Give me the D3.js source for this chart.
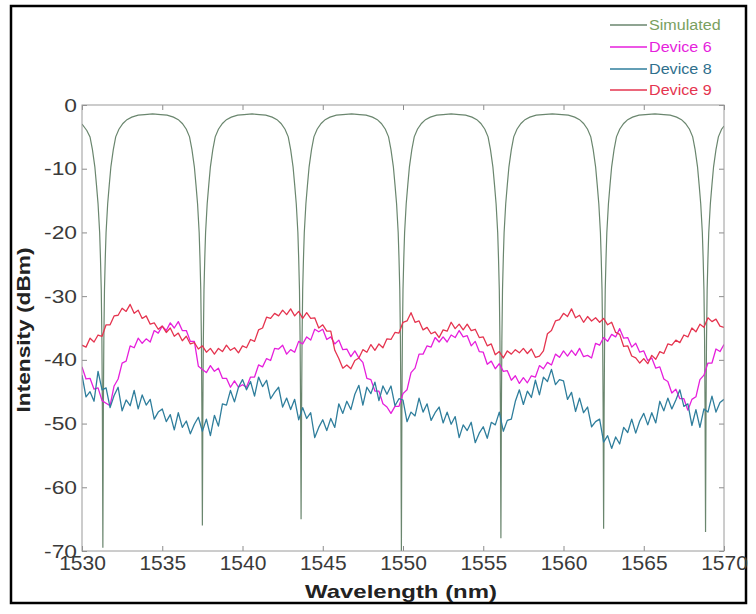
<!DOCTYPE html>
<html>
<head>
<meta charset="utf-8">
<script src="https://cdn.jsdelivr.net/npm/d3@7"></script>
<style>
  html, body { margin: 0; padding: 0; background: #fff; }
  svg { display: block; }
  text { font-family: "Liberation Sans", Arial, sans-serif; }
</style>
</head>
<body>
<svg id="chart" width="756" height="614"></svg>
<script>
// ---------------- DATA ----------------
const xTicks = [1530, 1535, 1540, 1545, 1550, 1555, 1560, 1565, 1570];
const yTicks = [0, -10, -20, -30, -40, -50, -60, -70];
const seriesNames = ["Simulated", "Device 6", "Device 8", "Device 9"];

// Simulated transmission (wavelength nm, intensity dBm)
const simWl = [
 1530.0,1530.3,1530.5,1530.65,1530.8,1530.9,1531.0,1531.1,1531.15,1531.2,1531.24,1531.27,1531.3,1531.33,1531.36,1531.4,1531.45,1531.5,1531.6,1531.7,1531.8,1531.95,1532.1,1532.3,1532.55,1532.8,1533.1,1533.5,1533.9,1534.4,
 1534.9,1535.3,1535.7,1536.0,1536.25,1536.5,1536.7,1536.85,1537.0,1537.1,1537.2,1537.3,1537.35,1537.4,1537.44,1537.47,1537.5,1537.53,1537.56,1537.6,1537.65,1537.7,1537.8,1537.9,1538.0,1538.15,1538.3,1538.5,1538.75,1539.0,1539.3,1539.7,1540.1,1540.6,
 1541.05,1541.45,1541.85,1542.15,1542.4,1542.65,1542.85,1543.0,1543.15,1543.25,1543.35,1543.45,1543.5,1543.55,1543.59,1543.62,1543.65,1543.68,1543.71,1543.75,1543.8,1543.85,1543.95,1544.05,1544.15,1544.3,1544.45,1544.65,1544.9,1545.15,1545.45,1545.85,1546.25,1546.8,
 1547.3,1547.7,1548.1,1548.4,1548.65,1548.9,1549.1,1549.25,1549.4,1549.5,1549.6,1549.7,1549.75,1549.8,1549.84,1549.87,1549.9,1549.93,1549.96,1550.0,1550.05,1550.1,1550.2,1550.3,1550.4,1550.55,1550.7,1550.9,1551.15,1551.4,1551.7,1552.1,1552.5,1553.0,
 1553.5,1553.9,1554.3,1554.6,1554.85,1555.1,1555.3,1555.45,1555.6,1555.7,1555.8,1555.9,1555.95,1556.0,1556.04,1556.07,1556.1,1556.13,1556.16,1556.2,1556.25,1556.3,1556.4,1556.5,1556.6,1556.75,1556.9,1557.1,1557.35,1557.6,1557.9,1558.3,1558.7,1559.3,
 1559.9,1560.3,1560.7,1561.0,1561.25,1561.5,1561.7,1561.85,1562.0,1562.1,1562.2,1562.3,1562.35,1562.4,1562.44,1562.47,1562.5,1562.53,1562.56,1562.6,1562.65,1562.7,1562.8,1562.9,1563.0,1563.15,1563.3,1563.5,1563.75,1564.0,1564.3,1564.7,1565.1,1565.7,
 1566.25,1566.65,1567.05,1567.35,1567.6,1567.85,1568.05,1568.2,1568.35,1568.45,1568.55,1568.65,1568.7,1568.75,1568.79,1568.82,1568.85,1568.88,1568.91,1568.95,1569.0,1569.05,1569.15,1569.25,1569.35,1569.5,1569.65,1569.85,1570.0
];
const simDb = [
 -3.0,-4.0,-5.0,-7.0,-9.7,-12.5,-15.5,-20,-24,-29,-37,-48,-69.5,-48,-37,-29,-24,-20,-15.5,-12.5,-9.7,-7.0,-5.0,-3.8,-2.9,-2.3,-1.9,-1.6,-1.5,-1.4,
 -1.5,-1.6,-1.9,-2.3,-2.9,-3.8,-5.0,-7.0,-9.7,-12.5,-15.5,-20,-24,-29,-37,-48,-66,-48,-37,-29,-24,-20,-15.5,-12.5,-9.7,-7.0,-5.0,-3.8,-2.9,-2.3,-1.9,-1.6,-1.5,-1.4,
 -1.5,-1.6,-1.9,-2.3,-2.9,-3.8,-5.0,-7.0,-9.7,-12.5,-15.5,-20,-24,-29,-37,-48,-65,-48,-37,-29,-24,-20,-15.5,-12.5,-9.7,-7.0,-5.0,-3.8,-2.9,-2.3,-1.9,-1.6,-1.5,-1.4,
 -1.5,-1.6,-1.9,-2.3,-2.9,-3.8,-5.0,-7.0,-9.7,-12.5,-15.5,-20,-24,-29,-37,-48,-70,-48,-37,-29,-24,-20,-15.5,-12.5,-9.7,-7.0,-5.0,-3.8,-2.9,-2.3,-1.9,-1.6,-1.5,-1.4,
 -1.5,-1.6,-1.9,-2.3,-2.9,-3.8,-5.0,-7.0,-9.7,-12.5,-15.5,-20,-24,-29,-37,-48,-68,-48,-37,-29,-24,-20,-15.5,-12.5,-9.7,-7.0,-5.0,-3.8,-2.9,-2.3,-1.9,-1.6,-1.5,-1.4,
 -1.5,-1.6,-1.9,-2.3,-2.9,-3.8,-5.0,-7.0,-9.7,-12.5,-15.5,-20,-24,-29,-37,-48,-66.5,-48,-37,-29,-24,-20,-15.5,-12.5,-9.7,-7.0,-5.0,-3.8,-2.9,-2.3,-1.9,-1.6,-1.5,-1.4,
 -1.5,-1.6,-1.9,-2.3,-2.9,-3.8,-5.0,-7.0,-9.7,-12.5,-15.5,-20,-24,-29,-37,-48,-67,-48,-37,-29,-24,-20,-15.5,-12.5,-9.7,-7.0,-5.0,-3.8,-3.3
];

// Measured devices, sampled every 0.25 nm from 1530 to 1570
const deviceWl = d3.range(161).map(i => 1530 + i * 0.25);

const device6 = [
 -41.1,-43.0,-42.9,-44.6,-44.4,-46.4,-46.8,-47.2,-44.1,-43.0,-40.5,-40.2,-37.8,-38.1,-36.6,-37.4,-36.7,-37.2,-35.4,-35.8,
 -34.7,-35.4,-34.2,-35.0,-34.0,-35.4,-35.4,-37.1,-37.1,-41.0,-41.5,-42.0,-40.9,-41.8,-41.3,-42.9,-42.9,-44.3,-43.3,-44.3,
 -43.9,-44.3,-42.7,-42.7,-40.8,-41.1,-39.8,-40.1,-38.2,-38.3,-37.7,-39.1,-38.4,-38.8,-37.1,-37.5,-36.4,-36.9,-35.2,-35.6,
 -35.2,-36.8,-36.4,-37.5,-36.9,-38.4,-38.3,-39.5,-38.6,-39.7,-40.4,-42.9,-43.1,-44.9,-44.9,-46.9,-47.4,-48.4,-47.3,-47.3,
 -45.3,-44.7,-42.0,-41.3,-39.1,-39.1,-37.8,-38.0,-36.5,-37.2,-36.4,-37.2,-36.1,-36.5,-35.4,-36.4,-36.2,-37.8,-37.1,-38.7,
 -38.8,-40.7,-40.2,-41.4,-40.6,-41.8,-41.7,-43.2,-42.5,-43.7,-42.8,-43.6,-42.5,-42.7,-40.9,-41.4,-40.4,-40.8,-39.1,-39.6,
 -38.6,-39.4,-38.5,-39.3,-38.2,-39.5,-39.3,-39.7,-37.4,-37.7,-36.5,-37.1,-36.0,-36.4,-35.1,-36.6,-36.5,-38.0,-37.4,-38.8,
 -38.6,-40.1,-39.7,-41.3,-41.1,-43.0,-43.4,-45.2,-44.6,-46.1,-46.1,-47.9,-46.2,-45.8,-43.1,-42.4,-40.5,-40.5,-38.3,-38.7,
 -37.6
];

const device8 = [
 -42.4,-45.8,-45.0,-46.5,-41.8,-44.7,-44.4,-47.5,-45.6,-44.3,-48.0,-46.3,-47.2,-44.8,-47.7,-45.5,-47.1,-46.2,-49.3,-48.2,
 -47.7,-49.7,-48.6,-51.0,-48.3,-50.6,-49.6,-51.6,-50.1,-49.0,-51.2,-49.3,-51.9,-48.7,-50.4,-46.9,-47.1,-44.8,-46.6,-44.3,
 -43.1,-44.7,-43.4,-45.7,-42.7,-44.2,-43.2,-46.1,-45.1,-44.3,-47.4,-46.0,-47.8,-46.2,-49.4,-47.5,-49.2,-48.3,-52.2,-50.6,
 -49.4,-51.1,-49.2,-50.6,-46.9,-48.4,-46.5,-47.8,-45.4,-44.0,-47.1,-44.3,-45.3,-43.5,-46.4,-44.1,-45.4,-44.1,-47.2,-46.1,
 -46.3,-49.7,-48.2,-48.8,-46.0,-48.2,-46.9,-49.5,-48.3,-47.4,-49.9,-48.2,-50.1,-48.9,-52.2,-50.2,-51.1,-49.8,-53.0,-51.5,
 -50.5,-52.3,-49.8,-50.2,-48.2,-51.2,-49.5,-49.3,-46.5,-44.7,-47.0,-44.9,-45.9,-43.2,-45.5,-42.7,-43.4,-41.5,-43.9,-43.1,
 -43.3,-46.2,-45.1,-48.1,-46.0,-48.3,-47.4,-50.5,-49.7,-49.3,-52.9,-51.9,-53.9,-52.1,-53.2,-50.6,-51.4,-49.3,-51.5,-49.6,
 -48.4,-50.2,-48.3,-49.9,-46.5,-48.0,-46.0,-47.7,-46.3,-44.7,-47.3,-46.9,-50.3,-47.8,-50.6,-47.7,-48.2,-45.7,-48.2,-46.7,
 -46.2
];

const device9 = [
 -37.7,-38.0,-36.6,-37.2,-36.1,-36.3,-34.5,-34.5,-33.1,-33.0,-31.9,-32.4,-31.3,-32.7,-32.2,-33.5,-33.1,-34.4,-34.2,-35.2,
 -34.7,-35.7,-35.0,-36.3,-35.8,-37.0,-36.3,-37.5,-37.3,-38.3,-37.8,-38.8,-38.2,-39.1,-38.2,-38.7,-37.7,-38.5,-38.1,-38.9,
 -37.8,-38.1,-36.8,-37.1,-35.3,-35.0,-33.3,-33.5,-32.7,-33.1,-32.2,-32.9,-32.0,-33.1,-32.4,-33.5,-32.6,-33.5,-33.4,-35.0,
 -34.5,-35.5,-35.5,-38.5,-39.8,-41.3,-40.8,-41.4,-40.1,-39.7,-38.4,-38.8,-37.6,-38.5,-37.5,-38.1,-36.7,-36.8,-35.7,-35.8,
 -34.1,-33.9,-32.6,-34.1,-33.9,-35.3,-34.9,-35.9,-35.6,-36.5,-35.3,-35.5,-34.1,-35.1,-34.4,-35.3,-34.4,-35.4,-35.2,-36.5,
 -36.4,-37.8,-37.5,-39.2,-38.7,-39.7,-38.6,-39.1,-38.4,-38.9,-38.2,-39.0,-38.3,-39.6,-39.4,-38.6,-35.9,-35.4,-33.9,-33.7,
 -32.7,-33.2,-32.0,-33.4,-33.0,-34.1,-33.2,-33.9,-33.4,-34.1,-33.5,-34.5,-34.1,-35.7,-36.0,-37.9,-37.8,-39.4,-39.7,-40.5,
 -39.8,-40.6,-39.3,-39.9,-38.7,-39.0,-37.5,-37.7,-36.9,-37.3,-36.1,-36.4,-35.0,-35.6,-34.4,-34.9,-33.4,-34.0,-33.6,-34.7,
 -34.9
];

const colors = ["#6a866e", "#e61fdc", "#2f7e9c", "#e5344f"];
const legendTextColors = ["#7aa060", "#e61fdc", "#2f6f8c", "#e5344f"];

// ---------------- CHART ----------------
const svg = d3.select("#chart");
const W = 756, H = 614;
svg.append("rect").attr("x", 0).attr("y", 0).attr("width", W).attr("height", H).attr("fill", "#fff");

const plot = { left: 82, right: 724, top: 105, bottom: 551 };
const x = d3.scaleLinear().domain([1530, 1570]).range([plot.left, plot.right]);
const y = d3.scaleLinear().domain([-70, 0]).range([plot.bottom, plot.top]);

// outer frame
svg.append("rect").attr("x", 11).attr("y", 6).attr("width", 735).attr("height", 597)
  .attr("fill", "none").attr("stroke", "#000").attr("stroke-width", 2.5);

// clip
svg.append("clipPath").attr("id", "clip").append("rect")
  .attr("x", plot.left).attr("y", plot.top - 1)
  .attr("width", plot.right - plot.left).attr("height", plot.bottom - plot.top + 1);

const line = d3.line().x(d => x(d[0])).y(d => y(d[1]));
const g = svg.append("g").attr("clip-path", "url(#clip)");

const simData = simWl.map((w, i) => [w, simDb[i]]);
const devs = [device6, device8, device9].map(arr => deviceWl.map((w, i) => [w, arr[i]]));

g.append("path").datum(simData).attr("d", line).attr("fill", "none")
  .attr("stroke", colors[0]).attr("stroke-width", 1.2);
devs.forEach((d, i) => {
  g.append("path").datum(d).attr("d", line).attr("fill", "none")
    .attr("stroke", colors[i + 1]).attr("stroke-width", 1.3).attr("stroke-linejoin", "round");
});

// axes
const tickColor = "#8c8c8c";
const fmt = d => String(d);
const xAxisB = svg.append("g").attr("transform", `translate(0,${plot.bottom})`)
  .call(d3.axisBottom(x).tickValues(xTicks).tickSize(-5).tickPadding(4).tickFormat(fmt));
const xAxisT = svg.append("g").attr("transform", `translate(0,${plot.top})`)
  .call(d3.axisTop(x).tickValues(xTicks).tickSize(-5).tickFormat(""));
const yAxisL = svg.append("g").attr("transform", `translate(${plot.left},0)`)
  .call(d3.axisLeft(y).tickValues(yTicks).tickSize(-5).tickPadding(5).tickFormat(fmt));
const yAxisR = svg.append("g").attr("transform", `translate(${plot.right},0)`)
  .call(d3.axisRight(y).tickValues(yTicks).tickSize(-5).tickFormat(""));

[xAxisB, xAxisT, yAxisL, yAxisR].forEach(a => {
  a.select(".domain").remove();
  a.selectAll(".tick line").attr("stroke", tickColor);
});
xAxisB.selectAll(".tick text").attr("font-size", 21).attr("fill", "#3a3a3a")
  .attr("font-family", "Liberation Sans, Arial, sans-serif");
yAxisL.selectAll(".tick text").attr("font-size", 19).attr("fill", "#3a3a3a")
  .attr("font-family", "Liberation Sans, Arial, sans-serif")
  .each(function () {
    const len = this.getComputedTextLength();
    d3.select(this).attr("textLength", len * 1.2).attr("lengthAdjust", "spacingAndGlyphs");
  });

// box
svg.append("rect").attr("x", plot.left).attr("y", plot.top)
  .attr("width", plot.right - plot.left).attr("height", plot.bottom - plot.top)
  .attr("fill", "none").attr("stroke", "#9a9a9a").attr("stroke-width", 1);

// axis labels
svg.append("text").attr("x", 401).attr("y", 598).attr("text-anchor", "middle")
  .attr("font-size", 19).attr("font-weight", "bold").attr("fill", "#222")
  .attr("textLength", 192).attr("lengthAdjust", "spacingAndGlyphs")
  .text("Wavelength (nm)");
svg.append("text").attr("transform", "translate(30,330) rotate(-90)").attr("text-anchor", "middle")
  .attr("font-size", 19).attr("font-weight", "bold").attr("fill", "#222")
  .attr("textLength", 165).attr("lengthAdjust", "spacingAndGlyphs")
  .text("Intensity (dBm)");

// legend
const legY = [25, 47, 69, 90];
seriesNames.forEach((name, i) => {
  svg.append("line").attr("x1", 610).attr("x2", 647).attr("y1", legY[i]).attr("y2", legY[i])
    .attr("stroke", colors[i]).attr("stroke-width", 1.4);
  const t = svg.append("text").attr("x", 649).attr("y", legY[i] + 5)
    .attr("font-size", 14).attr("fill", legendTextColors[i]).text(name);
  const len = t.node().getComputedTextLength();
  t.attr("textLength", len * 1.15).attr("lengthAdjust", "spacingAndGlyphs");
});
</script>
</body>
</html>
